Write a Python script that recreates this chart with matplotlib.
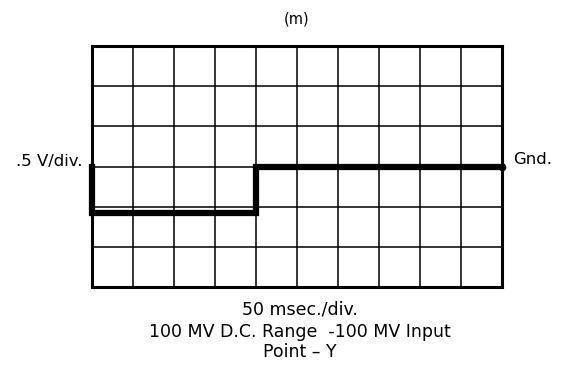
import matplotlib
matplotlib.use("Agg")
import matplotlib.pyplot as plt

# Data (divisions)
times = [0, 0, 4, 4, 10]
volts = [0, -1.15, -1.15, 0, 0]
n_xdiv = 10
n_ydiv = 6

title = "(m)"
y_label = ".5 V/div."
gnd_label = "Gnd."
caption = ["50 msec./div.", "100 MV D.C. Range  -100 MV Input", "Point \u2013 Y"]

W, H = 564, 369
plt.rcParams['font.family'] = ['DejaVu Sans']
fig = plt.figure(figsize=(W / 100, H / 100), dpi=100)

left, right, top, bottom = 92, 502, 46, 287
ax = fig.add_axes([left / W, 1 - bottom / H, (right - left) / W, (bottom - top) / H])
ax.set_xlim(0, n_xdiv)
ax.set_ylim(-n_ydiv / 2, n_ydiv / 2)
for x in range(1, n_xdiv):
    ax.axvline(x, color='black', lw=1.1)
for y in range(-2, 3):
    ax.axhline(y, color='black', lw=1.1)
for s in ax.spines.values():
    s.set_linewidth(2.2)
ax.set_xticks([])
ax.set_yticks([])

ax.plot(times, volts, color='black', lw=4.5, solid_joinstyle='miter', clip_on=False)
ax.plot([times[-1]], [volts[-1]], 'o', color='black', ms=4.5, clip_on=False)

renderer = fig.canvas.get_renderer()

def ftext(px, py, s, size, ha):
    return fig.text(px / W, 1 - py / H, s, fontsize=size, ha=ha, va='baseline')

# fit the common text size to the width of the longest caption line
probe = ftext(300, 337, caption[1], 10, 'center')
size = 10 * 300 / probe.get_window_extent(renderer).width
probe.remove()

ftext(297, 23, title, 10.5, 'center')
ftext(82, 166, y_label, size * 0.95, 'right')
ftext(513, 164, gnd_label, size * 0.95, 'left')
ftext(300, 315, caption[0], size, 'center')
ftext(300, 337, caption[1], size, 'center')
ftext(300, 357, caption[2], size, 'center')

fig.savefig("out.png", dpi=100)
